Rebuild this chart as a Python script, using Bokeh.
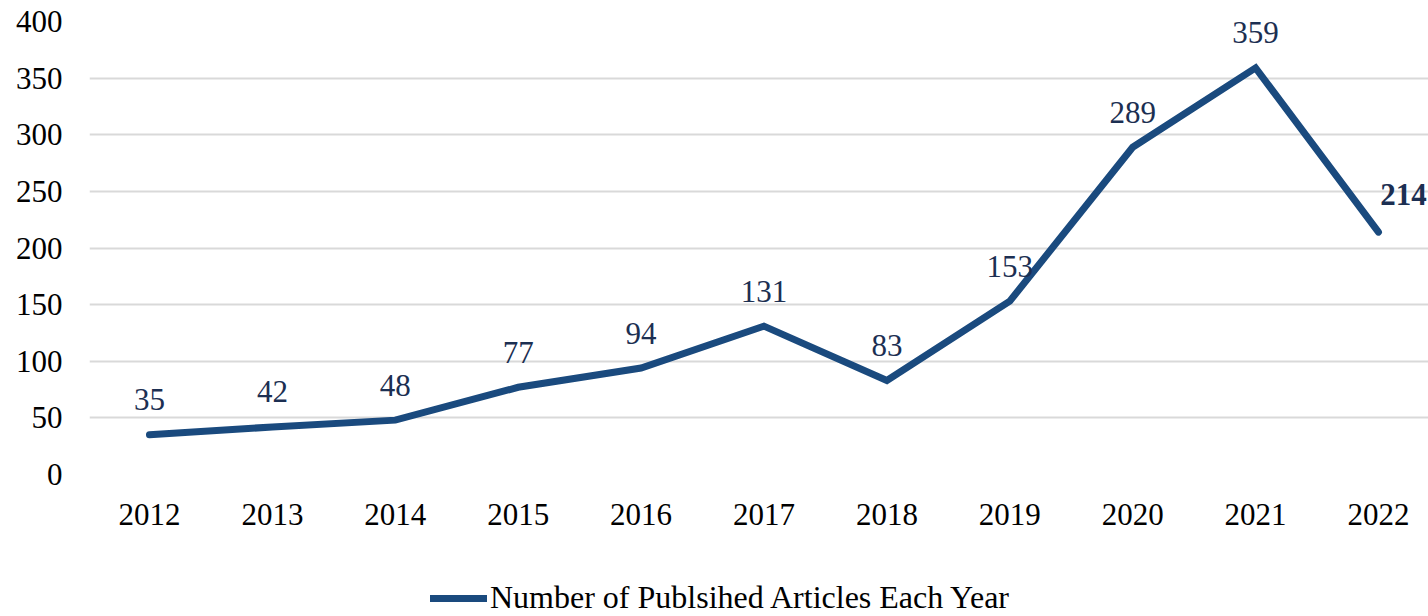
from bokeh.plotting import figure
from bokeh.layouts import column
from bokeh.models import Range1d, FixedTicker, Legend, LegendItem, ColumnDataSource
from bokeh.core.properties import value
from bokeh.embed import file_html
from bokeh.resources import INLINE

years = [2012, 2013, 2014, 2015, 2016, 2017, 2018, 2019, 2020, 2021, 2022]
articles = [35, 42, 48, 77, 94, 131, 83, 153, 289, 359, 214]
series_name = "Number of Publsihed Articles Each Year"
y_ticks = [0, 50, 100, 150, 200, 250, 300, 350, 400]

FONT = "Liberation Serif"
LINE_COLOR = "#1A4A7E"
LABEL_COLOR = "#1C2F52"
FS = "31px"

p = figure(
    width=1428, height=578,
    x_range=Range1d(years[0] - 0.488, years[-1] + 0.407),
    y_range=Range1d(0, 400),
    output_backend="svg", toolbar_location=None,
    min_border_left=89, min_border_right=0, min_border_top=21, min_border_bottom=104,
)
p.outline_line_color = None
p.background_fill_color = "white"

src = ColumnDataSource(dict(x=years, y=articles))
line_style = dict(line_color=LINE_COLOR, line_width=7, line_cap="round", line_join="miter")
p.line("x", "y", source=src, **line_style)

lab = ColumnDataSource(dict(x=years[:-1], y=articles[:-1], t=[str(v) for v in articles[:-1]]))
p.text("x", "y", text="t", source=lab, y_offset=-35, text_align="center",
       text_baseline="middle", text_font=value(FONT), text_font_size=FS,
       text_color=LABEL_COLOR)
last = ColumnDataSource(dict(x=[years[-1]], y=[articles[-1]], t=[str(articles[-1])]))
p.text("x", "y", text="t", source=last, x_offset=25, y_offset=-38, text_align="center",
       text_baseline="middle", text_font=value(FONT), text_font_size=FS,
       text_font_style="bold", text_color=LABEL_COLOR)

p.xaxis.ticker = FixedTicker(ticks=years)
p.xaxis.major_label_overrides = {y: str(y) for y in years}
p.yaxis.ticker = FixedTicker(ticks=y_ticks)
for ax in (p.xaxis[0], p.yaxis[0]):
    ax.axis_line_color = None
    ax.major_tick_line_color = None
    ax.minor_tick_line_color = None
    ax.major_tick_out = 0
    ax.major_tick_in = 0
    ax.major_label_text_font = FONT
    ax.major_label_text_font_size = FS
    ax.major_label_text_color = "black"
p.xaxis.major_label_standoff = 29
p.yaxis.major_label_standoff = 27

p.xgrid.grid_line_color = None
p.ygrid.ticker = FixedTicker(ticks=y_ticks)
p.ygrid.grid_line_color = "#D9D9D9"
p.ygrid.grid_line_width = 2

# legend strip below the chart (series line kept out of its view; only the legend shows)
pl = figure(width=1428, height=38, output_backend="svg", toolbar_location=None,
            x_range=Range1d(0, 1), y_range=Range1d(0, 1),
            x_axis_location=None, y_axis_location=None,
            min_border_left=89, min_border_right=0, min_border_top=0, min_border_bottom=0)
pl.outline_line_color = None
pl.xgrid.grid_line_color = None
pl.ygrid.grid_line_color = None
rl = pl.line("x", "y", source=src, **line_style)
legend = Legend(items=[LegendItem(label=series_name, renderers=[rl])],
                location=(341, 0), orientation="horizontal",
                label_text_font=FONT, label_text_font_size="32px",
                label_text_color="black", glyph_width=57, glyph_height=20,
                label_standoff=3, border_line_color=None, background_fill_alpha=0,
                padding=0, spacing=0, margin=0)
pl.add_layout(legend)

layout = column(p, pl, spacing=0)
open("out.html", "w").write(file_html(layout, INLINE))
